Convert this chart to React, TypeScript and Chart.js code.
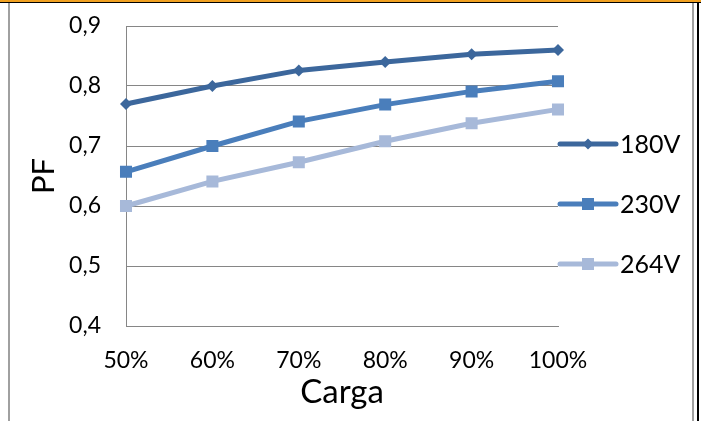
import React, { useEffect, useRef } from "react";
import { Chart, registerables } from "chart.js";

Chart.register(...registerables);

const categories = ["50%", "60%", "70%", "80%", "90%", "100%"];
const seriesNames = ["180V", "230V", "264V"];
const v180 = [0.77, 0.8, 0.826, 0.84, 0.853, 0.86];
const v230 = [0.657, 0.7, 0.741, 0.769, 0.791, 0.808];
const v264 = [0.6, 0.641, 0.673, 0.708, 0.738, 0.761];
const colors = ["#3C679C", "#4A7EBB", "#A7B9D9"];
const markers = ["rectRot", "rect", "rect"];
const markerRadius = [6, 8.5, 8.5];

const FONT = "Lato, 'Open Sans', sans-serif";

const legendPlugin = {
  id: "sideLegend",
  afterDraw(chart: any) {
    const ctx = chart.ctx;
    const ys = [144, 204, 264];
    ctx.save();
    chart.data.datasets.forEach((ds: any, i: number) => {
      const y = ys[i];
      const x0 = 560;
      const x1 = 616;
      ctx.strokeStyle = ds.borderColor;
      ctx.lineWidth = 5;
      ctx.lineCap = "round";
      ctx.beginPath();
      ctx.moveTo(x0, y);
      ctx.lineTo(x1, y);
      ctx.stroke();
      ctx.fillStyle = ds.borderColor;
      const cx = 588;
      if (ds.pointStyle === "rectRot") {
        const r = 5.5;
        ctx.beginPath();
        ctx.moveTo(cx, y - r);
        ctx.lineTo(cx + r, y);
        ctx.lineTo(cx, y + r);
        ctx.lineTo(cx - r, y);
        ctx.closePath();
        ctx.fill();
      } else {
        const s = 6;
        ctx.fillRect(cx - s, y - s, 2 * s, 2 * s);
      }
      ctx.fillStyle = "#000";
      ctx.font = `25px ${FONT}`;
      ctx.textAlign = "left";
      ctx.textBaseline = "middle";
      ctx.fillText(ds.label, 620, y + 1);
    });
    ctx.restore();
  },
};

export default function App() {
  const ref = useRef<HTMLCanvasElement>(null);
  useEffect(() => {
    if (!ref.current) return;
    const values = [v180, v230, v264];
    const chart = new Chart(ref.current, {
      type: "line",
      data: {
        labels: categories,
        datasets: seriesNames.map((name, i) => ({
          label: name,
          data: values[i],
          borderColor: colors[i],
          backgroundColor: colors[i],
          borderWidth: 5,
          pointStyle: markers[i] as any,
          pointRadius: markerRadius[i],
          pointBorderWidth: 0,
          pointBackgroundColor: colors[i],
          tension: 0,
        })),
      },
      options: {
        responsive: false,
        animation: false,
        devicePixelRatio: 1,
        layout: { autoPadding: false, padding: { left: 0, right: 143, top: 26, bottom: 0 } },
        plugins: { legend: { display: false }, tooltip: { enabled: false } },
        scales: {
          x: {
            offset: false,
            grid: { display: false, drawTicks: false },
            border: { display: true, color: "#868686", width: 1 },
            ticks: { color: "#000", font: { family: FONT, size: 23 }, padding: 21, maxRotation: 0 },
            title: { display: true, text: "Carga", color: "#000", font: { family: FONT, size: 33 }, padding: { top: 0, bottom: 9 } },
            afterFit: (s: any) => { s.height = 421 - 326; s.paddingLeft = 0; s.paddingRight = 0; },
          },
          y: {
            min: 0.4,
            max: 0.9,
            grid: { color: "#868686", lineWidth: 1, drawTicks: false },
            border: { display: true, color: "#868686", width: 1 },
            ticks: {
              stepSize: 0.1,
              color: "#000",
              font: { family: FONT, size: 23 },
              padding: 25,
              callback: (v: any) => Number(v).toFixed(1).replace(".", ","),
            },
            title: { display: true, text: "PF", color: "#000", font: { family: FONT, size: 31 }, padding: { top: 25, bottom: 0 } },
            afterFit: (s: any) => { s.width = 126; s.paddingTop = 0; s.paddingBottom = 0; },
          },
        },
      },
      plugins: [legendPlugin],
    });
    return () => chart.destroy();
  }, []);
  return (
    <div style={{ position: "fixed", left: 0, top: 0, width: 701, height: 421, background: "#fff", overflow: "hidden" }}>
      <canvas ref={ref} width={701} height={421} style={{ position: "absolute", left: 0, top: 0 }} />
      <div style={{ position: "absolute", left: 0, top: 0, width: 701, height: 2, background: "#F0A020" }} />
      <div style={{ position: "absolute", left: 0, top: 2, width: 701, height: 1, background: "#000" }} />
      <div style={{ position: "absolute", left: 8, top: 3, width: 2, height: 418, background: "#A0A0A0" }} />
      <div style={{ position: "absolute", left: 692, top: 3, width: 2, height: 418, background: "#A0A0A0" }} />
      <div style={{ position: "absolute", left: 697, top: 2, width: 2, height: 419, background: "#000" }} />
    </div>
  );
}
